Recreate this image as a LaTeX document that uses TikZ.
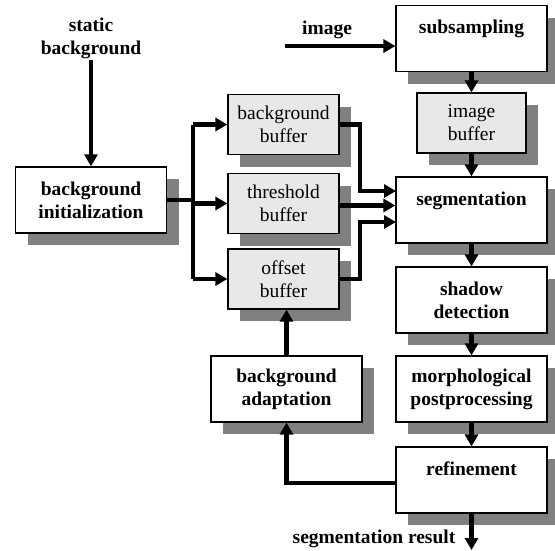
\documentclass[tikz,border=0pt]{standalone}
\usepackage{fontspec}
\setmainfont{Liberation Serif}
\usetikzlibrary{arrows.meta, shadows}

\newcommand\boxfont{\fontsize{19.5}{23}\selectfont}

\tikzset{
  shd/.style={drop shadow={shadow xshift=12pt, shadow yshift=-12pt, fill=black!50, opacity=1}},
  box/.style={draw, line width=1.2pt, fill=white, minimum width=151pt, minimum height=66pt,
              inner sep=0pt, align=center, font=\boxfont\bfseries, shd},
  buf/.style={draw, line width=1.2pt, fill=black!9, minimum width=111pt, minimum height=60pt,
              inner sep=0pt, align=center, font=\boxfont, shd},
  lbl/.style={align=center, font=\boxfont\bfseries, inner sep=1pt},
  wire/.style={line width=4.5pt},
  arr/.style={wire, -{Triangle[length=12pt,width=13pt]}}
}

\begin{document}
\begin{tikzpicture}[x=1pt,y=-1pt]

\useasboundingbox (0,0) rectangle (555,550);

% left part
\node (sbg)   at (91,38)  [lbl] {static\\background};
\node (binit) at (91,200) [box] {background\\initialization};

\node (bgbuf)  at (283.5,124.5) [buf] {background\\buffer};
\node (thrbuf) at (283.5,203.5) [buf] {threshold\\buffer};
\node (offbuf) at (283.5,279)   [buf] {offset\\buffer};

\node (badapt) at (286.5,389) [box] {background\\adaptation};

% right column
\node (imgl)   at (327,30)    [lbl] {image};
\node (subs)   at (471.5,38.5) [box] {subsampling\\\mbox{}};
\node (imgbuf) at (471.5,123) [buf, minimum width=109pt] {image\\buffer};
\node (seg)    at (471.5,210) [box] {segmentation\\\mbox{}};
\node (shdw)   at (471.5,300) [box] {shadow\\detection};
\node (morph)  at (471.5,389) [box] {morphological\\postprocessing};
\node (refine) at (471.5,480) [box] {refinement\\\mbox{}};
\node (resl)   at (374,539)   [lbl] {segmentation result};

\coordinate (imgin) at (285,46);
\coordinate (split) at (193,200);
\coordinate (jn)    at (360,0);
\coordinate (s1)    at (396,191);
\coordinate (s3)    at (396,222);
\coordinate (res)   at (471.5,550);

\draw[arr] (sbg) -- (binit);
\draw[arr] (imgin) -- (imgin -| subs.west);

\foreach \a/\b in {subs/imgbuf, imgbuf/seg, seg/shdw, shdw/morph, morph/refine}
  \draw[arr] (\a) -- (\b);
\draw[arr] (refine) -- (res);

% background init to the buffers
\draw[wire] (binit.east) -- (split);
\draw[wire] (split |- bgbuf) -- (split |- offbuf);
\foreach \b in {bgbuf, thrbuf, offbuf}
  \draw[arr] (split |- \b) -- (\b.west);

% buffers to segmentation
\draw[arr] (bgbuf.east) -| (jn |- s1) -- (s1);
\draw[arr] ([yshift=-2pt]thrbuf.east) -- ([yshift=-2pt]thrbuf.east -| seg.west);
\draw[arr] (offbuf.east) -| (jn |- s3) -- (s3);

% feedback loop
\draw[arr] ([yshift=-3pt]refine.west) -| (badapt.south);
\draw[arr] (badapt.north) -- (badapt.north |- offbuf.south);

\end{tikzpicture}
\end{document}
